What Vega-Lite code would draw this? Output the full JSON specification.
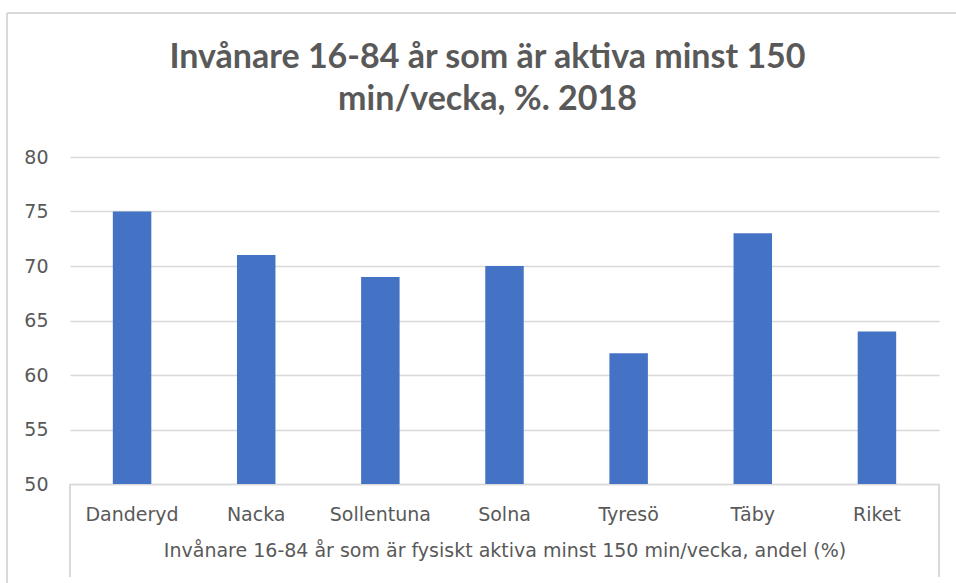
{
  "$schema": "https://vega.github.io/schema/vega-lite/v6.json",
  "width": 869,
  "height": 327,
  "autosize": "none",
  "padding": {"left": 70, "top": 157, "right": 17, "bottom": 99},
  "background": "white",
  "config": {"view": {"stroke": null}, "font": "DejaVu Sans"},
  "title": {
    "text": ["Invånare 16-84 år som är aktiva minst 150", "min/vecka, %. 2018"],
    "anchor": "middle",
    "frame": "group",
    "fontSize": 34,
    "font": "Lato",
    "fontWeight": "bold",
    "color": "#595959",
    "lineHeight": 42,
    "dx": -17,
    "offset": -105
  },
  "data": {
    "values": [
      {"kommun": "Danderyd", "andel": 75},
      {"kommun": "Nacka", "andel": 71},
      {"kommun": "Sollentuna", "andel": 69},
      {"kommun": "Solna", "andel": 70},
      {"kommun": "Tyresö", "andel": 62},
      {"kommun": "Täby", "andel": 73},
      {"kommun": "Riket", "andel": 64}
    ]
  },
  "layer": [
    {
      "mark": {"type": "bar", "color": "#4472C4"},
      "encoding": {
        "x": {
          "field": "kommun",
          "type": "nominal",
          "sort": null,
          "scale": {"paddingInner": 0.69, "paddingOuter": 0.345},
          "axis": {
            "title": "Invånare 16-84 år som är fysiskt aktiva minst 150 min/vecka, andel (%)",
            "titleFont": "DejaVu Sans",
            "titleFontSize": 19,
            "titleFontWeight": "normal",
            "titleColor": "#595959",
            "titlePadding": 17,
            "labelAngle": 0,
            "labelFont": "DejaVu Sans",
            "labelFontSize": 19,
            "labelColor": "#595959",
            "labelPadding": 21,
            "ticks": false,
            "domainColor": "#d9d9d9",
            "domainWidth": 1.5
          }
        },
        "y": {
          "field": "andel",
          "type": "quantitative",
          "scale": {"domain": [50, 80], "zero": false, "nice": false},
          "axis": {
            "title": null,
            "values": [50, 55, 60, 65, 70, 75, 80],
            "labelFont": "DejaVu Sans",
            "labelFontSize": 19,
            "labelColor": "#595959",
            "labelPadding": 22,
            "ticks": false,
            "domain": false,
            "gridColor": "#d9d9d9",
            "gridWidth": 1.5
          }
        },
        "y2": {"datum": 50}
      }
    },
    {
      "mark": {"type": "rule", "color": "#d9d9d9", "strokeWidth": 1.5},
      "encoding": {
        "x": {"datum": "Danderyd", "type": "nominal", "bandPosition": -1.1129},
        "y": {"datum": 50, "type": "quantitative"},
        "y2": {"datum": 41.5}
      }
    },
    {
      "mark": {"type": "rule", "color": "#d9d9d9", "strokeWidth": 1.5},
      "encoding": {
        "x": {"datum": "Riket", "type": "nominal", "bandPosition": 2.1129},
        "y": {"datum": 50, "type": "quantitative"},
        "y2": {"datum": 41.5}
      }
    },
    {
      "mark": {"type": "rule", "color": "#d9d9d9", "strokeWidth": 1.5},
      "encoding": {
        "x": {"datum": "Danderyd", "type": "nominal", "bandPosition": -2.75},
        "y": {"datum": 93.2, "type": "quantitative"},
        "y2": {"datum": 40}
      }
    },
    {
      "mark": {"type": "rule", "color": "#d9d9d9", "strokeWidth": 1.5},
      "encoding": {
        "x": {"datum": "Danderyd", "type": "nominal", "bandPosition": -2.75},
        "x2": {"datum": "Riket", "bandPosition": 5},
        "y": {"datum": 93.2, "type": "quantitative"}
      }
    }
  ]
}
